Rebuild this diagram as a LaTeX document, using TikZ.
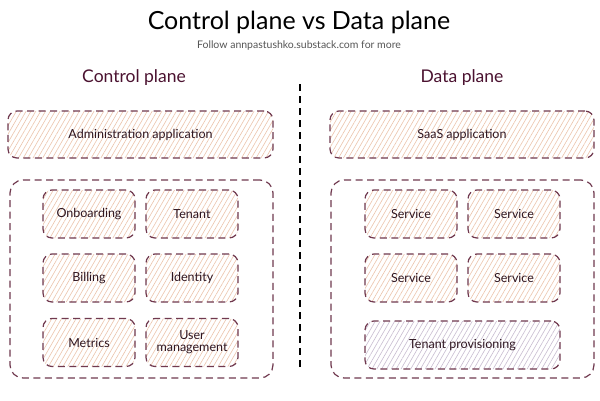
\documentclass[tikz,border=0pt]{standalone}
\usepackage{fontspec}
\setmainfont{Lato}
\usetikzlibrary{patterns.meta}
\definecolor{strk}{RGB}{112,57,79}
\definecolor{hatchA}{RGB}{236,196,172}
\definecolor{hatchB}{RGB}{200,188,208}
\definecolor{lbl}{RGB}{46,21,32}
\definecolor{head}{RGB}{75,18,48}
\definecolor{subt}{RGB}{85,85,85}
\tikzset{
  box/.style={draw=strk, line width=1.2pt, dash pattern=on 7pt off 4.5pt,
    rounded corners=9pt, inner sep=2pt, outer sep=0pt, text=lbl,
    font=\fontsize{12.5}{13}\selectfont, align=center,
    pattern={Lines[angle=60,distance=4.2pt,line width=0.6pt]}, pattern color=hatchA},
  boxB/.style={box, pattern color=hatchB},
  cont/.style={draw=strk, line width=1.2pt, dash pattern=on 7pt off 4.5pt,
    rounded corners=13pt, inner sep=0pt, outer sep=0pt},
  heading/.style={text=head, font=\fontsize{17.5}{19}\selectfont},
  divider/.style={draw=black, line width=1.2pt, dash pattern=on 7pt off 5pt}
}
\begin{document}
\begin{tikzpicture}[x=1pt,y=-1pt]
\useasboundingbox[fill=white] (0,0) rectangle (600,400);
% titles
\node[font=\fontsize{25}{28}\selectfont] (title) at (299,22) {Control plane vs Data plane};
\node[text=subt, font=\fontsize{10.5}{11}\selectfont] (sub) at (299,46) {Follow annpastushko.substack.com for more};
\node[heading] (hcp) at (134,78) {Control plane};
\node[heading] (hdp) at (462,78) {Data plane};
% divider
\coordinate (dtop) at (300,84);
\coordinate (dbot) at (300,367);
\draw[divider] (dtop) -- (dbot);
% containers
\node[cont, minimum width=263pt, minimum height=198pt] (ccont) at (141.5,279) {};
\node[cont, minimum width=263pt, minimum height=198pt] (dcont) at (462.5,279) {};
% control plane
\node[box, minimum width=265pt, minimum height=47pt] (admin) at (140.5,134.5) {Administration application};
\node[box, minimum width=92pt, minimum height=48pt] (onb) at (89,214) {Onboarding};
\node[box, minimum width=92pt, minimum height=48pt] (ten) at (192,214) {Tenant};
\node[box, minimum width=92pt, minimum height=48pt] (bil) at (89,278) {Billing};
\node[box, minimum width=92pt, minimum height=48pt] (idn) at (192,278) {Identity};
\node[box, minimum width=92pt, minimum height=48pt] (met) at (89,342.5) {Metrics};
\node[box, minimum width=92pt, minimum height=48pt] (usr) at (192,342.5) {User\\[-1pt]management};
% data plane
\node[box, minimum width=264pt, minimum height=47pt] (saas) at (462,134.5) {SaaS application};
\node[box, minimum width=92pt, minimum height=48pt] (s1) at (411,214) {Service};
\node[box, minimum width=92pt, minimum height=48pt] (s2) at (514,214) {Service};
\node[box, minimum width=92pt, minimum height=48pt] (s3) at (411,278) {Service};
\node[box, minimum width=92pt, minimum height=48pt] (s4) at (514,278) {Service};
\node[boxB, minimum width=195pt, minimum height=48pt] (tp) at (462.5,345) {Tenant provisioning};
\end{tikzpicture}
\end{document}
